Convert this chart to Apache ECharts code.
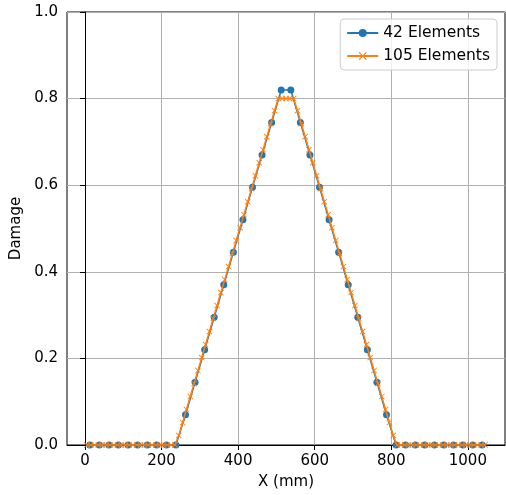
<!DOCTYPE html>
<html>
<head>
<meta charset="utf-8">
<script src="https://cdn.jsdelivr.net/npm/echarts@6/dist/echarts.min.js"></script>
<style>
  html, body { margin: 0; padding: 0; background: #fff; }
  #main { width: 506px; height: 495px; }
</style>
</head>
<body>
<div id="main"></div>
<script>
// element centres (mm) and damage
var x42 = [12.5, 37.5, 62.5, 87.5, 112.5, 137.5, 162.5, 187.5, 212.5, 237.5,
    262.5, 287.5, 312.5, 337.5, 362.5, 387.5, 412.5, 437.5, 462.5, 487.5, 512.5,
    537.5, 562.5, 587.5, 612.5, 637.5, 662.5, 687.5, 712.5, 737.5, 762.5, 787.5,
    812.5, 837.5, 862.5, 887.5, 912.5, 937.5, 962.5, 987.5, 1012.5, 1037.5];
var damage42 = [0, 0, 0, 0, 0, 0, 0, 0, 0, 0,
    0.07, 0.145, 0.22, 0.295, 0.37, 0.445, 0.52, 0.595, 0.67, 0.745, 0.82,
    0.82, 0.745, 0.67, 0.595, 0.52, 0.445, 0.37, 0.295, 0.22, 0.145, 0.07,
    0, 0, 0, 0, 0, 0, 0, 0, 0, 0];

var x105 = [5, 15, 25, 35, 45, 55, 65, 75, 85, 95, 105, 115, 125, 135, 145, 155,
    165, 175, 185, 195, 205, 215, 225, 235, 245, 255, 265, 275, 285, 295, 305, 315,
    325, 335, 345, 355, 365, 375, 385, 395, 405, 415, 425, 435, 445, 455, 465, 475,
    485, 495, 505, 515, 525, 535, 545, 555, 565, 575, 585, 595, 605, 615, 625, 635,
    645, 655, 665, 675, 685, 695, 705, 715, 725, 735, 745, 755, 765, 775, 785, 795,
    805, 815, 825, 835, 845, 855, 865, 875, 885, 895, 905, 915, 925, 935, 945, 955,
    965, 975, 985, 995, 1005, 1015, 1025, 1035, 1045];
var damage105 = [0, 0, 0, 0, 0, 0, 0, 0, 0, 0, 0, 0, 0, 0, 0, 0,
    0, 0, 0, 0, 0, 0, 0, 0, 0.022, 0.052, 0.082, 0.112, 0.142, 0.172, 0.202, 0.232,
    0.262, 0.292, 0.322, 0.352, 0.382, 0.412, 0.442, 0.472, 0.502, 0.532, 0.562, 0.592, 0.622, 0.652, 0.682, 0.712,
    0.742, 0.772, 0.8, 0.8, 0.8, 0.8, 0.8, 0.772, 0.742, 0.712, 0.682, 0.652, 0.622, 0.592, 0.562, 0.532,
    0.502, 0.472, 0.442, 0.412, 0.382, 0.352, 0.322, 0.292, 0.262, 0.232, 0.202, 0.172, 0.142, 0.112, 0.082, 0.052,
    0.022, 0, 0, 0, 0, 0, 0, 0, 0, 0, 0, 0, 0, 0, 0, 0,
    0, 0, 0, 0, 0, 0, 0, 0, 0];

var xTicks = [0, 200, 400, 600, 800, 1000];
var yTicks = [0, 0.2, 0.4, 0.6, 0.8, 1.0];

function pairs(xs, ys) {
    return xs.map(function (v, i) { return [v, ys[i]]; });
}

var font = 'DejaVu Sans';
var crossSymbol = 'path://M0,1L1,0L5,4L9,0L10,1L6,5L10,9L9,10L5,6L1,10L0,9L4,5Z';

var myChart = echarts.init(document.getElementById('main'));
var option = {
    animation: false,
    textStyle: { fontFamily: font },
    grid: {
        left: 67, top: 12, right: 1, bottom: 50,
        show: true, borderColor: '#000', borderWidth: 1
    },
    legend: {
        orient: 'vertical',
        right: 9, top: 19,
        backgroundColor: 'rgba(255,255,255,0.8)',
        borderColor: '#cccccc', borderWidth: 1, borderRadius: 4,
        padding: [6, 7, 6, 6],
        itemWidth: 31, itemHeight: 10, itemGap: 7,
        textStyle: { fontFamily: font, fontSize: 15.5, color: '#000' },
        data: ['42 Elements', '105 Elements']
    },
    xAxis: {
        type: 'value',
        min: -47, max: 1097,
        name: 'X (mm)', nameLocation: 'middle', nameGap: 30,
        nameTextStyle: { fontFamily: font, fontSize: 15, color: '#000' },
        axisLine: { lineStyle: { color: '#000', width: 1 } },
        axisTick: { inside: false, length: 5, lineStyle: { color: '#000' }, customValues: xTicks },
        axisLabel: {
            margin: 9, fontSize: 15, color: '#000', fontFamily: font, customValues: xTicks,
            formatter: function (v) { return String(v); }
        },
        splitLine: { show: true, lineStyle: { color: '#b0b0b0', width: 1 } }
    },
    yAxis: {
        type: 'value',
        min: 0, max: 1, interval: 0.2,
        name: 'Damage', nameLocation: 'middle', nameGap: 36,
        nameTextStyle: { fontFamily: font, fontSize: 15, color: '#000' },
        axisLine: { show: true, lineStyle: { color: '#000', width: 1 } },
        axisTick: { show: true, inside: false, length: 5, lineStyle: { color: '#000' } },
        axisLabel: {
            margin: 9, fontSize: 15, color: '#000', fontFamily: font,
            formatter: function (v) { return v.toFixed(1); }
        },
        splitLine: { show: true, lineStyle: { color: '#b0b0b0', width: 1 } }
    },
    series: [
        {
            name: '42 Elements',
            type: 'line',
            data: pairs(x42, damage42),
            color: '#1f77b4',
            symbol: 'circle', symbolSize: 7,
            showAllSymbol: true,
            lineStyle: { width: 1.5 },
            z: 2
        },
        {
            name: '105 Elements',
            type: 'line',
            data: pairs(x105, damage105),
            color: '#ff7f0e',
            symbol: crossSymbol, symbolSize: 6,
            showAllSymbol: true,
            lineStyle: { width: 1.5 },
            z: 3
        }
    ]
};
myChart.setOption(option);
</script>
</body>
</html>
